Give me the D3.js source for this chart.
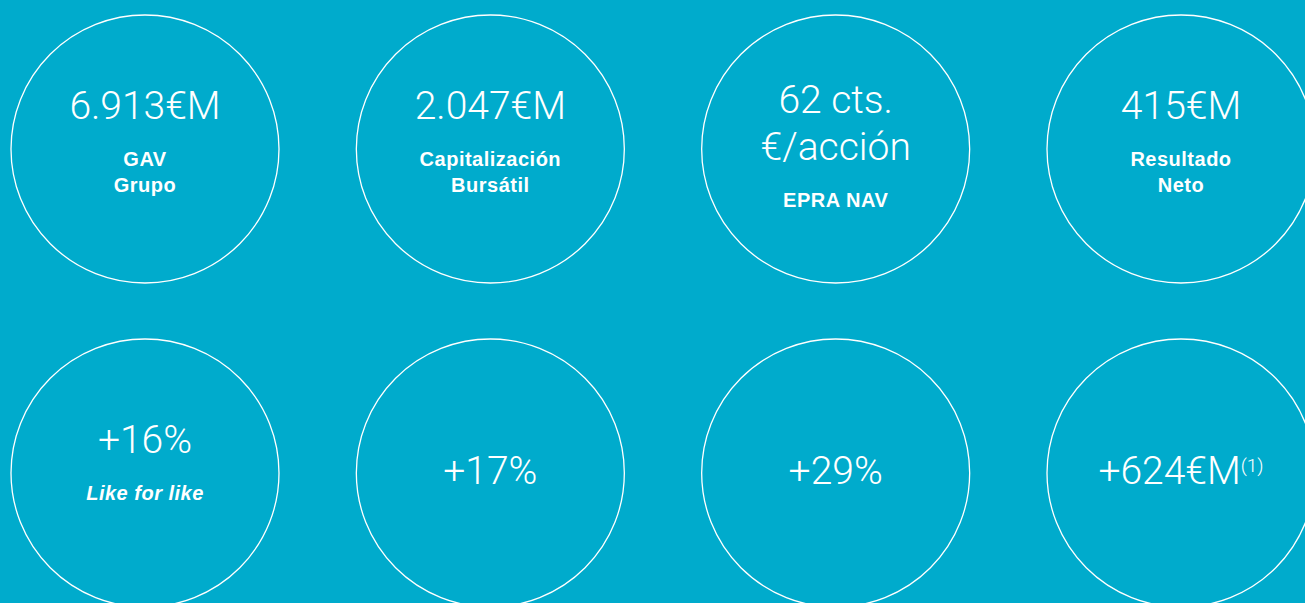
<!DOCTYPE html>
<html>
<head>
<meta charset="utf-8">
<script src="https://cdn.jsdelivr.net/npm/d3@7"></script>
<style>
  html, body { margin: 0; padding: 0; background: #00abcc; overflow: hidden; }
</style>
</head>
<body>
<svg id="chart"></svg>
<script>
// KPI values, one per circle (row by row)
var values = ["6.913€M", "2.047€M", "62 cts.|€/acción", "415€M",
              "+16%", "+17%", "+29%", "+624€M"];
var notes = ["", "", "", "", "", "", "", "(1)"];
var labels = ["GAV|Grupo", "Capitalización|Bursátil", "EPRA NAV", "Resultado|Neto",
              "Like for like", "", "", ""];
var italicLabels = [false, false, false, false, true, false, false, false];
var cols = [0, 1, 2, 3];
var rows = [0, 1];

var svgWidth = 1305, svgHeight = 603;
var svg = d3.select("#chart")
    .attr("width", svgWidth)
    .attr("height", svgHeight);

var x = d3.scalePoint().domain(cols).range([145, 1181]);
var y = d3.scalePoint().domain(rows).range([149, 473]);
var r = 134;

var data = values.map(function(v, i) {
  return {
    value: v.split("|"),
    note: notes[i],
    label: labels[i] ? labels[i].split("|") : [],
    italic: italicLabels[i],
    col: i % 4,
    row: Math.floor(i / 4)
  };
});

var g = svg.selectAll("g.kpi")
  .data(data)
  .enter().append("g")
  .attr("class", "kpi")
  .attr("transform", function(d) { return "translate(" + x(d.col) + "," + y(d.row) + ")"; });

g.append("circle")
  .attr("r", r)
  .attr("fill", "none")
  .attr("stroke", "#fff")
  .attr("stroke-width", 1.3);

g.each(function(d) {
  var el = d3.select(this);
  var lineH = 47;
  var labelH = 26;
  // where the first value line sits, depending on what is below it
  var valTop;
  if (d.label.length == 0) valTop = 11;
  else if (d.value.length > 1) valTop = -36;
  else if (d.label.length > 1) valTop = -30;
  else valTop = -20;

  var vt = el.append("text")
    .attr("text-anchor", "middle")
    .attr("fill", "#fff")
    .attr("font-family", "Roboto")
    .attr("font-weight", 300)
    .attr("font-size", 39);
  d.value.forEach(function(s, k) {
    vt.append("tspan").attr("x", 0).attr("y", valTop + k * lineH).text(s);
  });
  if (d.note) {
    vt.append("tspan")
      .attr("dy", -12)
      .attr("font-size", 19)
      .text(d.note);
  }

  var labTop = valTop + (d.value.length - 1) * lineH + 47;
  var lt = el.append("text")
    .attr("text-anchor", "middle")
    .attr("fill", "#fff")
    .attr("font-family", "Liberation Sans, Arial, sans-serif")
    .attr("font-weight", "bold")
    .attr("font-style", d.italic ? "italic" : "normal")
    .attr("font-size", 20)
    .attr("letter-spacing", 0.5);
  d.label.forEach(function(s, k) {
    lt.append("tspan").attr("x", 0).attr("y", labTop + k * labelH).text(s);
  });
});
</script>
</body>
</html>
